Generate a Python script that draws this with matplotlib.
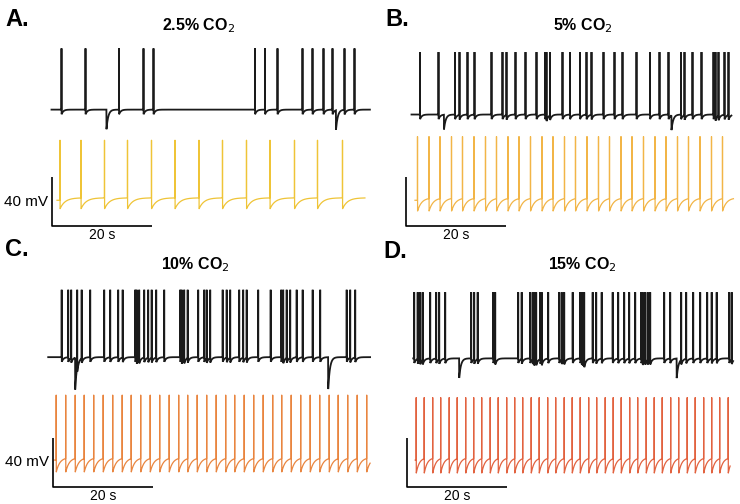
import numpy as np
import matplotlib
matplotlib.use("Agg")
import matplotlib.pyplot as plt

plt.rcParams['font.family'] = ['Liberation Sans', 'DejaVu Sans']

# spike times (s) read from the recordings (black) and the model (coloured)
a_rec_spikes = [1.9, 6.7, 13.4, 18.3, 20.3, 40.6, 42.6, 45.1, 50.1, 52.1, 54.3, 56.1, 58.5, 60.5]
a_rec_dips = [10.9, 56.8]
a_model_spikes = [1.6, 5.8, 10.5, 15.1, 19.9, 24.6, 29.4, 34.1, 38.9, 43.6, 48.5, 53.1, 58.1]

b_rec_spikes = [2.8, 6.5, 9.8, 10.7, 12.3, 13.7, 17.1, 19.3, 20.1, 21.9, 23.9, 26.1, 27.8, 28.1,
                28.8, 31.3, 32.8, 34.8, 36.1, 37.1, 39.5, 41.7, 43.3, 46.1, 48.8, 50.7, 52.5,
                55.0, 55.7, 57.3, 59.1, 61.5, 61.9, 62.5, 63.7, 64.5]
b_rec_dips = [7.6, 53.1]
b_model_spikes = [2.3, 4.6, 6.8, 9.1, 11.3, 13.6, 15.9, 18.1, 20.4, 22.6, 24.9, 27.2, 29.4, 31.7,
                  33.9, 36.2, 38.5, 40.7, 43.0, 45.2, 47.5, 49.8, 52.0, 54.3, 56.5, 58.8, 61.1, 63.3]

c_rec_spikes = [1.8, 3.1, 3.7, 4.9, 5.8, 7.5, 10.3, 11.5, 13.1, 14.0, 16.5, 16.8, 17.3, 18.3,
                19.1, 19.8, 20.7, 22.3, 25.5, 25.8, 26.3, 27.0, 29.1, 30.3, 30.8, 31.5, 34.0,
                34.8, 35.5, 37.3, 38.1, 38.8, 41.1, 43.6, 45.7, 46.1, 46.8, 47.5, 48.8, 50.0,
                52.0, 53.5, 58.8, 59.5, 60.5]
c_rec_dips = [4.5, 55.1]
c_model_spikes = [0.7, 2.6, 4.5, 6.3, 8.2, 10.1, 12.0, 13.9, 15.7, 17.6, 19.5, 21.4, 23.3, 25.2,
                  27.0, 28.9, 30.8, 32.7, 34.6, 36.4, 38.3, 40.2, 42.1, 44.0, 45.8, 47.7, 49.6,
                  51.5, 53.4, 55.3, 57.1, 59.0, 60.9, 62.8]

d_rec_spikes = [1.5, 2.2, 2.7, 3.2, 4.7, 5.9, 6.5, 7.7, 12.9, 13.5, 14.2, 17.3, 17.7, 22.3, 23.0,
                24.7, 25.2, 25.5, 25.9, 26.7, 27.0, 28.3, 30.5, 31.0, 31.5, 33.2, 34.7, 35.0,
                35.3, 35.5, 37.2, 37.9, 39.0, 41.2, 42.3, 43.5, 44.5, 45.7, 46.9, 47.2, 47.7,
                48.2, 48.7, 51.5, 52.7, 54.9, 55.9, 57.3, 58.7, 60.1, 61.0, 62.0, 64.5, 65.0]
d_rec_dips = [10.5, 54.0]
d_model_spikes = [1.9, 3.5, 5.2, 6.8, 8.5, 10.1, 11.8, 13.4, 15.0, 16.7, 18.3, 20.0, 21.6, 23.2,
                  24.9, 26.5, 28.2, 29.8, 31.5, 33.1, 34.7, 36.4, 38.0, 39.7, 41.3, 42.9, 44.6,
                  46.2, 47.9, 49.5, 51.1, 52.8, 54.4, 56.1, 57.7, 59.4, 61.0, 62.6, 64.3]

titles = ['2.5% CO$_2$', '5% CO$_2$', '10% CO$_2$', '15% CO$_2$']
letters = ['A.', 'B.', 'C.', 'D.']
model_colors = ['#efc437', '#f2b547', '#e9853f', '#e2623f']

W, H = 740, 504
PX_S = 5.0      # pixels per second
PX_MV = 1.225   # pixels per mV
DT = 0.02


def rec_trace(spikes, dips, t0, t1, base, top, dip_depth):
    t = np.arange(t0, t1, DT)
    v = np.full_like(t, base)
    for s in spikes:
        m = t > s
        v[m] -= 4 * np.exp(-(t[m] - s) / 0.35)
    for d in dips:
        m = t >= d
        v[m] -= dip_depth * np.exp(-(t[m] - d) / 0.35)
    for s in spikes:
        v[np.argmin(np.abs(t - s))] = top
    return t, v


def model_trace(spikes, t0, t1, peak, trough, thr, tau):
    t = np.arange(t0, t1, DT)
    v = np.full_like(t, thr - 2.0)
    for s in spikes:
        m = t > s
        v[m] = thr - (thr - trough) * np.exp(-(t[m] - s) / tau)
    for s in spikes:
        v[np.argmin(np.abs(t - s))] = peak
    return t, v


fig = plt.figure(figsize=(W / 100, H / 100), dpi=100)

panels = [
    # left, top, right, bottom, x0 (time 0), y0 (bar bottom) in pixels
    dict(box=(40, 40, 375, 250), x0=52, y0=226, rec=(a_rec_spikes, a_rec_dips, -0.1, 63.6, 95, 145, 16),
         model=(a_model_spikes, 1.0, 62.6, 70, 14, 23, 1.0), mv=True),
    dict(box=(394, 40, 740, 250), x0=406, y0=226, rec=(b_rec_spikes, b_rec_dips, 1.1, 65.1, 91, 142, 12),
         model=(b_model_spikes, 1.8, 65.5, 73, 12, 23, 0.8), mv=False),
    dict(box=(40, 280, 375, 504), x0=52.7, y0=487, rec=(c_rec_spikes, c_rec_dips, -0.9, 63.5, 106, 161, 26),
         model=(c_model_spikes, 0.3, 63.5, 75, 12, 24, 0.7), mv=True),
    dict(box=(394, 280, 740, 504), x0=406.7, y0=487, rec=(d_rec_spikes, d_rec_dips, 1.3, 65.3, 105, 159, 16),
         model=(d_model_spikes, 1.7, 64.7, 73, 11, 24, 0.6), mv=False),
]

title_pos = [(199, 26), (583, 26), (195, 265), (582, 265)]
letter_pos = [(5, 20), (385, 20), (5, 250), (383, 252)]

for i, p in enumerate(panels):
    l, tp, r, b = p['box']
    ax = fig.add_axes([l / W, 1 - b / H, (r - l) / W, (b - tp) / H])
    ax.set_xlim((l - p['x0']) / PX_S, (r - p['x0']) / PX_S)
    ax.set_ylim((p['y0'] - b) / PX_MV, (p['y0'] - tp) / PX_MV)
    ax.axis('off')

    sp, dips, t0, t1, base, top, depth = p['rec']
    t, v = rec_trace(sp, dips, t0, t1, base, top, depth)
    ax.plot(t, v, color='#1a1a1a', lw=1.3, solid_joinstyle='miter')

    sp, t0, t1, peak, trough, thr, tau = p['model']
    t, v = model_trace(sp, t0, t1, peak, trough, thr, tau)
    ax.plot(t, v, color=model_colors[i], lw=0.9)

    # scale bars: 40 mV and 20 s
    ax.plot([0, 0, 20], [40, 0, 0], color='black', lw=1.2, solid_capstyle='butt')
    ax.text(10, -9 / PX_MV, '20 s', ha='center', va='center', fontsize=10, clip_on=False)
    if p['mv']:
        ax.text(-0.8, 20, '40 mV', ha='right', va='center', fontsize=11)

    fig.text(title_pos[i][0] / W, 1 - title_pos[i][1] / H, titles[i],
             ha='center', va='center', fontsize=11.5, fontweight='bold')
    fig.text(letter_pos[i][0] / W, 1 - letter_pos[i][1] / H, letters[i],
             ha='left', va='center', fontsize=17, fontweight='bold')

fig.savefig('out.png', dpi=100)
